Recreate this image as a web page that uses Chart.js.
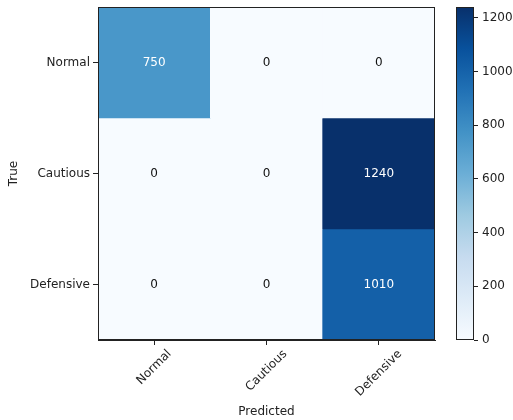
<!DOCTYPE html>
<html>
<head>
<meta charset="utf-8">
<script src="https://cdn.jsdelivr.net/npm/chart.js@4/dist/chart.umd.min.js"></script>
<style>
  html, body { margin: 0; padding: 0; background: #fff; }
  #wrap { position: relative; width: 513px; height: 420px; }
  #main { position: absolute; left: 0; top: 0; }
  #cbar { position: absolute; left: 440px; top: 0; }
</style>
</head>
<body>
<div id="wrap">
  <canvas id="main" width="440" height="420"></canvas>
  <canvas id="cbar" width="73" height="420"></canvas>
</div>
<script>
// Confusion matrix: rows = true class, columns = predicted class
const predictedLabels = ['Normal', 'Cautious', 'Defensive'];
const trueLabels = ['Normal', 'Cautious', 'Defensive'];
const rowNormal = [750, 0, 0];
const rowCautious = [0, 0, 1240];
const rowDefensive = [0, 0, 1010];
const colorbarTicks = [0, 200, 400, 600, 800, 1000, 1200];

const matrix = [rowNormal, rowCautious, rowDefensive];
const vmax = Math.max(...matrix.flat());

const FONT = { family: 'DejaVu Sans', size: 12 };
const INK = '#222';

// "Blues" sequential colormap stops
const blues = [
  [247, 251, 255], [222, 235, 247], [198, 219, 239], [158, 202, 225],
  [107, 174, 214], [66, 146, 198], [33, 113, 181], [8, 81, 156], [8, 48, 107]
];
function bluesColor(t) {
  t = Math.max(0, Math.min(1, t));
  const pos = t * (blues.length - 1);
  const i = Math.min(Math.floor(pos), blues.length - 2);
  const f = pos - i;
  const c = blues[i].map((v, k) => Math.round(v + (blues[i + 1][k] - v) * f));
  return `rgb(${c[0]},${c[1]},${c[2]})`;
}

// Frame around the plotting area
const framePlugin = {
  id: 'frame',
  afterDatasetsDraw(chart) {
    const a = chart.chartArea, ctx = chart.ctx;
    ctx.save();
    ctx.strokeStyle = INK;
    ctx.lineWidth = 1;
    ctx.strokeRect(Math.round(a.left) + 0.5, Math.round(a.top) + 0.5,
                   Math.round(a.right - a.left) - 1, Math.round(a.bottom - a.top) - 1);
    ctx.restore();
  }
};

// Cell annotations and rotated, centred x tick labels
const annotatePlugin = {
  id: 'annotate',
  afterDraw(chart) {
    const ctx = chart.ctx;
    const xs = chart.scales.x, ys = chart.scales.y;
    ctx.save();
    ctx.font = `${FONT.size}px ${FONT.family}`;
    ctx.textAlign = 'center';
    ctx.textBaseline = 'middle';
    matrix.forEach((row, r) => {
      row.forEach((v, c) => {
        ctx.fillStyle = v > vmax / 2 ? '#ffffff' : '#111111';
        ctx.fillText(String(v), xs.getPixelForValue(c), ys.getPixelForValue(r + 0.5));
      });
    });
    // x tick labels rotated 45 degrees, bounding box centred under the tick
    ctx.fillStyle = INK;
    const top = xs.top + 4 + 4;
    const h = FONT.size * 0.95;
    predictedLabels.forEach((lab, c) => {
      const w = ctx.measureText(lab).width;
      const boxH = (w + h) * Math.SQRT1_2;
      ctx.save();
      ctx.translate(xs.getPixelForValue(c), top + boxH / 2);
      ctx.rotate(-Math.PI / 4);
      ctx.fillText(lab, 0, 0);
      ctx.restore();
    });
    ctx.restore();
  }
};

// One floating bar per cell: dataset = true row, spanning [row, row+1]
const datasets = matrix.map((row, r) => ({
  label: trueLabels[r],
  data: row.map(() => [r, r + 1]),
  backgroundColor: row.map(v => bluesColor(v / vmax)),
  borderWidth: 0,
  barPercentage: 1,
  categoryPercentage: 1,
  grouped: false
}));

new Chart(document.getElementById('main'), {
  type: 'bar',
  data: { labels: predictedLabels, datasets },
  options: {
    responsive: false,
    animation: false,
    events: [],
    layout: { padding: { top: 7, right: 5, left: 0, bottom: 0 } },
    plugins: { legend: { display: false }, tooltip: { enabled: false } },
    scales: {
      x: {
        type: 'category',
        grid: { display: true, drawOnChartArea: false, drawTicks: true, tickLength: 5, color: INK, offset: false },
        border: { display: true, color: INK },
        ticks: { display: false },
        title: { display: true, text: 'Predicted', font: FONT, color: INK, padding: { top: 0, bottom: 1 } },
        afterFit(scale) { scale.height = 80; scale.paddingLeft = 0; scale.paddingRight = 0; }
      },
      y: {
        type: 'linear',
        min: 0, max: 3,
        reverse: true,
        afterBuildTicks(scale) { scale.ticks = trueLabels.map((_, i) => ({ value: i + 0.5 })); },
        grid: { display: true, drawOnChartArea: false, drawTicks: true, tickLength: 5, color: INK },
        border: { display: true, color: INK },
        ticks: {
          font: FONT, color: INK, padding: 3,
          callback: v => trueLabels[Math.floor(v)]
        },
        title: { display: true, text: 'True', font: FONT, color: INK, padding: { top: 7, bottom: 0 } },
        afterFit(scale) { scale.width = 98; scale.paddingTop = 0; scale.paddingBottom = 0; }
      }
    }
  },
  plugins: [framePlugin, annotatePlugin]
});

// Colorbar: a single bar spanning the full value range with a gradient fill
new Chart(document.getElementById('cbar'), {
  type: 'bar',
  data: {
    labels: [''],
    datasets: [{
      data: [[0, vmax]],
      borderWidth: 0,
      barPercentage: 1,
      categoryPercentage: 1,
      backgroundColor(ctx) {
        const chart = ctx.chart;
        const area = chart.chartArea;
        if (!area || !isFinite(area.top) || !isFinite(area.bottom)) return bluesColor(0.5);
        const g = chart.ctx.createLinearGradient(0, area.bottom, 0, area.top);
        blues.forEach((_, i) => g.addColorStop(i / (blues.length - 1), bluesColor(i / (blues.length - 1))));
        return g;
      }
    }]
  },
  options: {
    responsive: false,
    animation: false,
    events: [],
    layout: { padding: { top: 7, left: 16, right: 0, bottom: 80 } },
    plugins: { legend: { display: false }, tooltip: { enabled: false } },
    scales: {
      x: { display: false },
      y: {
        position: 'right',
        min: 0, max: vmax,
        afterBuildTicks(scale) { scale.ticks = colorbarTicks.map(v => ({ value: v })); },
        grid: { display: true, drawOnChartArea: false, drawTicks: true, tickLength: 4, color: INK },
        border: { display: false },
        ticks: { font: FONT, color: INK, padding: 4, callback: v => String(v) },
        afterFit(scale) { scale.width = 39; scale.paddingTop = 0; scale.paddingBottom = 0; }
      }
    }
  },
  plugins: [framePlugin]
});
</script>
</body>
</html>
